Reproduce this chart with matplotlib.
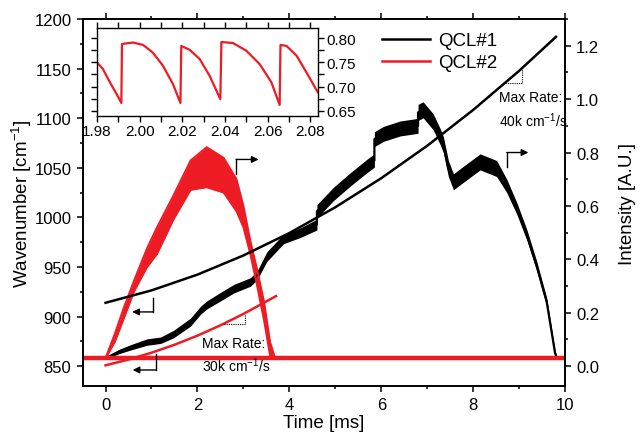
import numpy as np
import matplotlib
matplotlib.use("Agg")
import matplotlib.pyplot as plt
from matplotlib.ticker import MultipleLocator

plt.rcParams["font.family"] = ["Liberation Sans", "DejaVu Sans"]
plt.rcParams["mathtext.default"] = "regular"

RED = "#ED1C24"

# wavenumber sweeps (left axis, cm-1)
qcl1_t = [0, 1, 2, 3, 4, 5, 6, 7, 8, 9, 9.8]
qcl1_wn = [914, 926.5, 942.4, 961.7, 984.3, 1010.3, 1039.6, 1072.3, 1108.4, 1147.8, 1182]
qcl2_t = [0, 0.5, 1, 1.5, 2, 2.5, 3, 3.5, 3.71]
qcl2_wn = [851, 856.8, 863.7, 871.7, 880.9, 891.3, 902.8, 915.4, 920.8]

# intensity traces (right axis, A.U.) - centre / spread of the noisy band
qcl1_int_t = [-0.5, 0, 0.3, 0.54, 0.9, 1.2, 1.48, 1.85, 2.07, 2.21, 2.5, 2.79, 3.15, 3.3,
              3.51, 3.87, 4.24, 4.6, 4.6, 4.96, 5.33, 5.69, 5.85, 5.85, 6.05, 6.41, 6.8,
              6.8, 6.91, 7.13, 7.28, 7.35, 7.46, 7.57, 7.72, 8.15, 8.51, 8.73, 8.95, 9.17,
              9.38, 9.6, 9.78, 9.82]
qcl1_int = [0.03, 0.03, 0.055, 0.07, 0.09, 0.097, 0.12, 0.165, 0.21, 0.23, 0.26, 0.29, 0.315,
            0.34, 0.41, 0.476, 0.50, 0.53, 0.58, 0.645, 0.70, 0.75, 0.77, 0.85, 0.87, 0.89,
            0.90, 0.95, 0.96, 0.915, 0.86, 0.83, 0.74, 0.69, 0.71, 0.765, 0.74, 0.675, 0.59,
            0.49, 0.376, 0.24, 0.05, 0.03]
qcl1_spread = [0.004, 0.004, 0.008, 0.01, 0.012, 0.012, 0.014, 0.015, 0.015, 0.015, 0.016,
               0.016, 0.016, 0.016, 0.018, 0.018, 0.018, 0.02, 0.025, 0.025, 0.025, 0.025,
               0.025, 0.028, 0.028, 0.028, 0.028, 0.03, 0.03, 0.03, 0.03, 0.03, 0.03, 0.03,
               0.03, 0.03, 0.03, 0.025, 0.022, 0.02, 0.018, 0.015, 0.01, 0.005]

qcl2_int_t = [0, 0.2, 0.4, 0.62, 0.9, 1.12, 1.48, 1.85, 2.2, 2.57, 2.85, 3.0, 3.15, 3.3,
              3.45, 3.58, 3.68]
qcl2_int_hi = [0.03, 0.12, 0.22, 0.32, 0.44, 0.52, 0.64, 0.77, 0.82, 0.78, 0.70, 0.60, 0.47,
               0.36, 0.24, 0.09, 0.035]
qcl2_int_lo = [0.03, 0.09, 0.18, 0.28, 0.37, 0.42, 0.55, 0.66, 0.67, 0.65, 0.58, 0.52, 0.42,
               0.30, 0.17, 0.04, 0.03]
qcl2_base_t = [-0.5, 0, 3.68, 10]
qcl2_base = [0.03, 0.03, 0.03, 0.03]

# inset: zoom on QCL#2 intensity around 2 ms
inset_t = [1.98, 1.9828, 1.986, 1.9891, 1.9914, 1.9917, 1.9969, 2.0016, 2.0062, 2.0109,
           2.0156, 2.0191, 2.0195, 2.0234, 2.0281, 2.0328, 2.0378, 2.0383, 2.0437, 2.05,
           2.0563, 2.0617, 2.0656, 2.066, 2.0688, 2.0735, 2.0782, 2.0835]
inset_int = [0.75, 0.736, 0.709, 0.685, 0.666, 0.788, 0.791, 0.786, 0.770, 0.743, 0.705,
             0.666, 0.784, 0.776, 0.757, 0.722, 0.674, 0.792, 0.790, 0.774, 0.746, 0.709,
             0.662, 0.786, 0.784, 0.764, 0.729, 0.688]

# rate annotations
rate1_tri = ([8.65, 9.06, 9.06], [1135.1, 1135.1, 1152.9])
rate2_tri = ([2.57, 3.03, 3.03], [892.4, 892.4, 901.7])

fig = plt.figure(figsize=(6.4, 4.35), dpi=100)
ax = fig.add_axes([0.129, 0.110, 0.754, 0.844])
ax2 = ax.twinx()

# intensity bands
c1 = np.array(qcl1_int)
s1 = np.array(qcl1_spread)
ax2.fill_between(qcl1_int_t, c1 - s1, c1 + s1, color="black", lw=0)
ax2.plot(qcl1_int_t, c1, color="black", lw=1.6)
ax2.plot(qcl2_base_t, qcl2_base, color=RED, lw=3.2, solid_capstyle="butt")
ax2.fill_between(qcl2_int_t, qcl2_int_lo, qcl2_int_hi, color=RED, lw=0)
ax2.plot(qcl2_int_t, qcl2_int_hi, color=RED, lw=1.4)
ax2.plot(qcl2_int_t, qcl2_int_lo, color=RED, lw=1.4)

# wavenumber lines on top
ax.set_zorder(ax2.get_zorder() + 1)
ax.patch.set_visible(False)
l1, = ax.plot(qcl1_t, qcl1_wn, color="black", lw=1.8, label="QCL#1")
l2, = ax.plot(qcl2_t, qcl2_wn, color=RED, lw=1.8, label="QCL#2")
ax.plot(*rate1_tri, color="black", lw=0.8, ls=(0, (1, 1)))
ax.plot(*rate2_tri, color="black", lw=0.8, ls=(0, (1, 1)))
ax.text(8.57, 1128, "Max Rate:\n40k cm$^{-1}$/s", fontsize=10, va="top", linespacing=1.35)
ax.text(2.1, 881, "Max Rate:\n30k cm$^{-1}$/s", fontsize=10, va="top", linespacing=1.35)

# axis-indicator arrows
arr = dict(arrowstyle="-|>", color="black", lw=1, mutation_scale=10, shrinkA=0, shrinkB=0)
ax.plot([1.04, 1.04], [919.3, 904.8], color="black", lw=1)
ax.annotate("", xy=(0.58, 904.8), xytext=(1.04, 904.8), arrowprops=arr)
ax.plot([1.09, 1.09], [862.1, 846.3], color="black", lw=1)
ax.annotate("", xy=(0.59, 846.3), xytext=(1.09, 846.3), arrowprops=arr)
ax2.plot([2.84, 2.84], [0.72, 0.774], color="black", lw=1)
ax2.annotate("", xy=(3.33, 0.774), xytext=(2.84, 0.774), arrowprops=arr)
ax2.plot([8.73, 8.73], [0.745, 0.80], color="black", lw=1)
ax2.annotate("", xy=(9.2, 0.80), xytext=(8.73, 0.80), arrowprops=arr)

ax.set_xlim(-0.5, 10)
ax.set_ylim(830, 1200)
ax2.set_ylim(-0.075, 1.30)
ax.xaxis.set_major_locator(MultipleLocator(2))
ax.xaxis.set_minor_locator(MultipleLocator(1))
ax.yaxis.set_major_locator(MultipleLocator(50))
ax.yaxis.set_minor_locator(MultipleLocator(25))
ax2.yaxis.set_major_locator(MultipleLocator(0.2))
ax2.yaxis.set_minor_locator(MultipleLocator(0.1))
ax2.yaxis.set_major_formatter(matplotlib.ticker.FormatStrFormatter("%.1f"))
ax.tick_params(which="both", direction="out", labelsize=12, width=1.1, top=True)
ax.tick_params(which="major", length=4.5)
ax.tick_params(which="minor", length=2.5)
ax2.tick_params(which="both", direction="out", labelsize=12, width=1.1)
ax2.tick_params(which="major", length=4.5)
ax2.tick_params(which="minor", length=2.5)
for a in (ax, ax2):
    for sp in a.spines.values():
        sp.set_linewidth(1.2)
ax.set_xlabel("Time [ms]", fontsize=13.5, labelpad=1)
ax.set_ylabel("Wavenumber [cm$^{-1}$]", fontsize=13.5, labelpad=0)
ax2.set_ylabel("Intensity [A.U.]", fontsize=13.5, labelpad=14)

ax.legend(handles=[l1, l2], loc="upper left", bbox_to_anchor=(0.585, 1.01), frameon=False,
          fontsize=13.5, handlelength=2.6, handletextpad=0.4, labelspacing=0.25)

# inset
axi = fig.add_axes([0.1516, 0.731, 0.345, 0.2023])
axi.plot(inset_t, inset_int, color=RED, lw=1.6)
axi.set_xlim(1.98, 2.0835)
axi.set_ylim(0.639, 0.821)
axi.xaxis.set_major_locator(MultipleLocator(0.02))
axi.xaxis.set_minor_locator(MultipleLocator(0.01))
axi.yaxis.set_major_locator(MultipleLocator(0.05))
axi.yaxis.set_minor_locator(MultipleLocator(0.025))
axi.xaxis.set_major_formatter(matplotlib.ticker.FormatStrFormatter("%.2f"))
axi.yaxis.set_major_formatter(matplotlib.ticker.FormatStrFormatter("%.2f"))
axi.tick_params(which="both", direction="out", labelsize=11, width=1, top=True, right=True,
                labelleft=False, labelright=True, pad=2)
axi.tick_params(which="major", length=4)
axi.tick_params(which="minor", length=4)
for sp in axi.spines.values():
    sp.set_linewidth(1)

fig.savefig("out.png", dpi=100)
